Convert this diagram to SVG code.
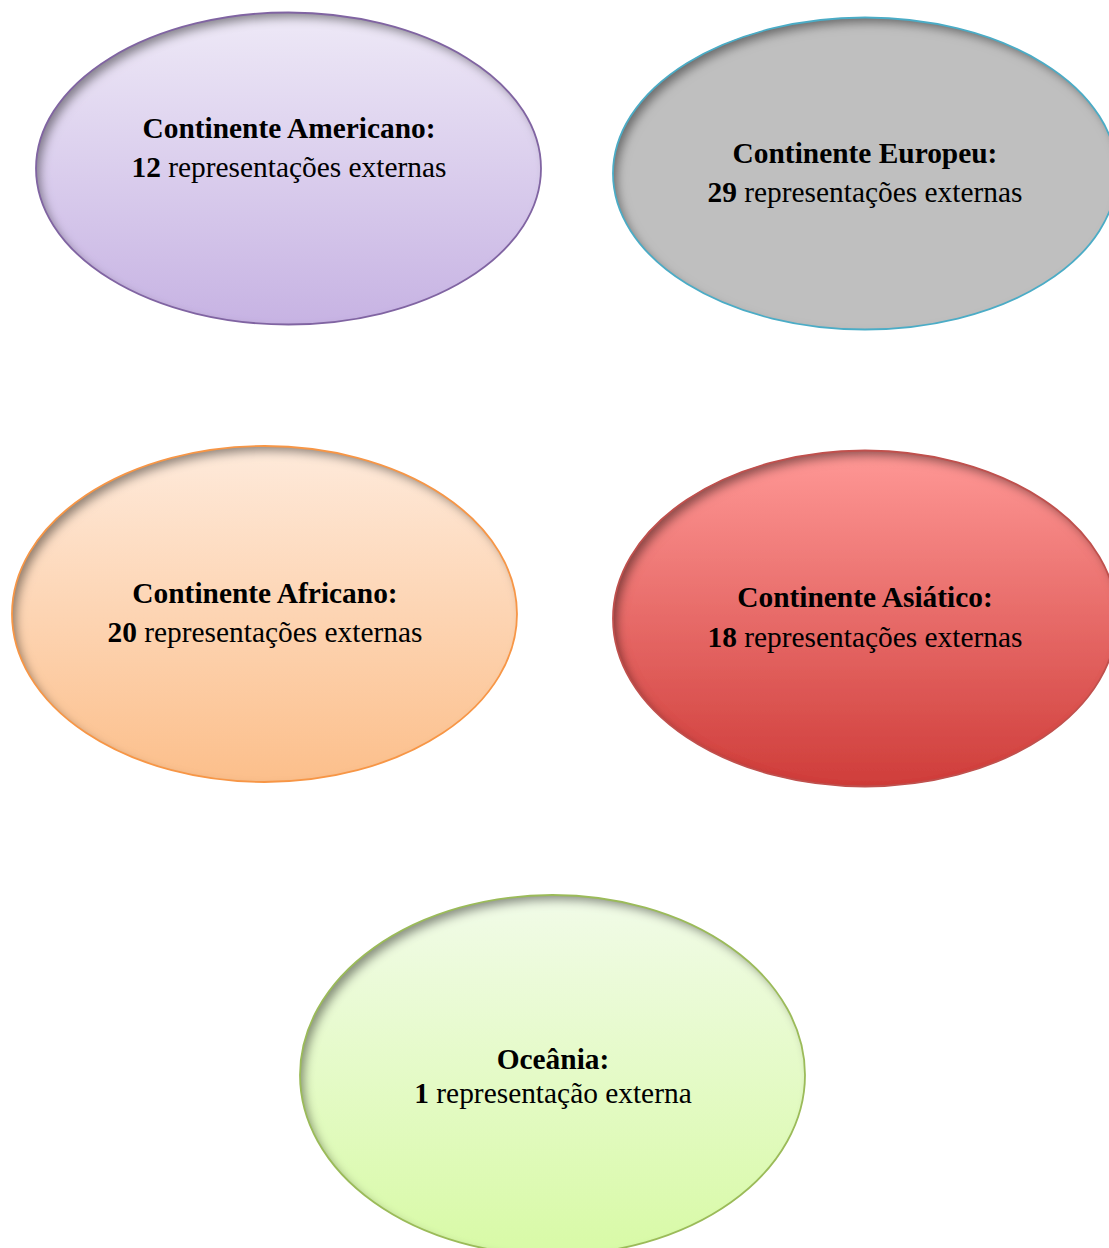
<svg xmlns="http://www.w3.org/2000/svg" width="1109" height="1248" viewBox="0 0 1109 1248">
<style>
  text { font-family: "Liberation Serif", "Times New Roman", serif; font-size: 29.4px; fill: #000; text-anchor: middle; }
  .b { font-weight: bold; }
  .fill { stroke: none; filter: url(#inner); }
  .edge { fill: none; stroke-width: 1.8; }
</style>
<defs>
  <linearGradient id="gAm" x1="0" y1="0" x2="0" y2="1">
    <stop offset="0" stop-color="#EEE9F7"/>
    <stop offset="1" stop-color="#C7B3E3"/>
  </linearGradient>
  <linearGradient id="gAf" x1="0" y1="0" x2="0" y2="1">
    <stop offset="0" stop-color="#FEEADB"/>
    <stop offset="1" stop-color="#FCBF8B"/>
  </linearGradient>
  <linearGradient id="gAs" x1="0" y1="0" x2="0" y2="1">
    <stop offset="0" stop-color="#FF9896"/>
    <stop offset="1" stop-color="#CF3D3A"/>
  </linearGradient>
  <linearGradient id="gOc" x1="0" y1="0" x2="0" y2="1">
    <stop offset="0" stop-color="#F1FBE8"/>
    <stop offset="1" stop-color="#D8FAA6"/>
  </linearGradient>
  <filter id="inner" x="-10%" y="-10%" width="120%" height="120%">
    <feComponentTransfer in="SourceAlpha" result="inv">
      <feFuncA type="table" tableValues="1 0"/>
    </feComponentTransfer>
    <feOffset in="inv" dx="5" dy="6" result="off"/>
    <feGaussianBlur in="off" stdDeviation="5" result="blur"/>
    <feComposite in="blur" in2="SourceAlpha" operator="in" result="clip"/>
    <feFlood flood-color="#000" flood-opacity="0.7"/>
    <feComposite in2="clip" operator="in" result="shadow"/>
    <feMerge>
      <feMergeNode in="SourceGraphic"/>
      <feMergeNode in="shadow"/>
    </feMerge>
  </filter>
</defs>
<g id="connectors"></g>
<g id="americano">
  <ellipse class="fill" cx="288.5" cy="168.5" rx="252.5" ry="156" fill="url(#gAm)"/>
  <ellipse class="edge" cx="288.5" cy="168.5" rx="252.5" ry="156" stroke="#8064A2"/>
  <text x="289" y="138" class="b">Continente Americano:</text>
  <text x="289" y="177"><tspan class="b">12</tspan> representações externas</text>
</g>
<g id="europeu">
  <ellipse class="fill" cx="865" cy="173.5" rx="252" ry="156" fill="#BFBFBF"/>
  <ellipse class="edge" cx="865" cy="173.5" rx="252" ry="156" stroke="#4BACC6"/>
  <text x="865" y="163" class="b">Continente Europeu:</text>
  <text x="865" y="202"><tspan class="b">29</tspan> representações externas</text>
</g>
<g id="africano">
  <ellipse class="fill" cx="264.5" cy="614" rx="252.5" ry="168" fill="url(#gAf)"/>
  <ellipse class="edge" cx="264.5" cy="614" rx="252.5" ry="168" stroke="#F79646"/>
  <text x="265" y="603" class="b">Continente Africano:</text>
  <text x="265" y="642"><tspan class="b">20</tspan> representações externas</text>
</g>
<g id="asiatico">
  <ellipse class="fill" cx="865" cy="618.5" rx="252" ry="168" fill="url(#gAs)"/>
  <ellipse class="edge" cx="865" cy="618.5" rx="252" ry="168" stroke="#C0504D"/>
  <text x="865" y="607" class="b">Continente Asiático:</text>
  <text x="865" y="647"><tspan class="b">18</tspan> representações externas</text>
</g>
<g id="oceania">
  <ellipse class="fill" cx="552.5" cy="1075" rx="252.5" ry="180" fill="url(#gOc)"/>
  <ellipse class="edge" cx="552.5" cy="1075" rx="252.5" ry="180" stroke="#9BBB59"/>
  <text x="553" y="1069" class="b">Oceânia:</text>
  <text x="553" y="1103"><tspan class="b">1</tspan> representação externa</text>
</g>
</svg>
